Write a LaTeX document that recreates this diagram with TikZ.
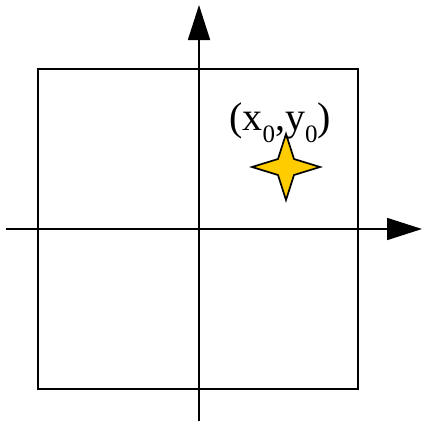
\documentclass[tikz,border=0pt]{standalone}
\usepackage{fontspec}
\setmainfont{Liberation Serif}
\usetikzlibrary{arrows.meta,calc}
\begin{document}
\begin{tikzpicture}[x=1pt,y=-1pt,
  axis/.style={line width=1.7pt,-{Triangle[length=35pt,width=22pt]}},
  frame/.style={line width=1.7pt,draw=black},
  starshape/.style={fill={rgb,255:red,255;green,204;blue,0},draw=black,line width=1.7pt,line join=miter}]
\useasboundingbox (0,0) rectangle (423,421);
\draw[frame] (38,69) rectangle (358,389);
\coordinate (xs) at (6,229);
\coordinate (xe) at (422,229);
\coordinate (ys) at (199,421);
\coordinate (ye) at (199,5);
\draw[axis] (xs) -- (xe);
\draw[axis] (ys) -- (ye);
\coordinate (s) at (286,167);
\draw[starshape] ($(s)+(-34,0)$) -- ($(s)+(-8,-8)$) -- ($(s)+(0,-33)$) -- ($(s)+(8,-8)$) -- ($(s)+(34,0)$) -- ($(s)+(8,8)$) -- ($(s)+(0,33)$) -- ($(s)+(-8,8)$) -- cycle;
\node[inner sep=0pt,anchor=base] (lbl) at (280,130) {\fontsize{40}{40}\selectfont (x\raisebox{-0.32em}{\fontsize{25}{25}\selectfont 0},y\raisebox{-0.32em}{\fontsize{25}{25}\selectfont 0})};
\end{tikzpicture}
\end{document}
